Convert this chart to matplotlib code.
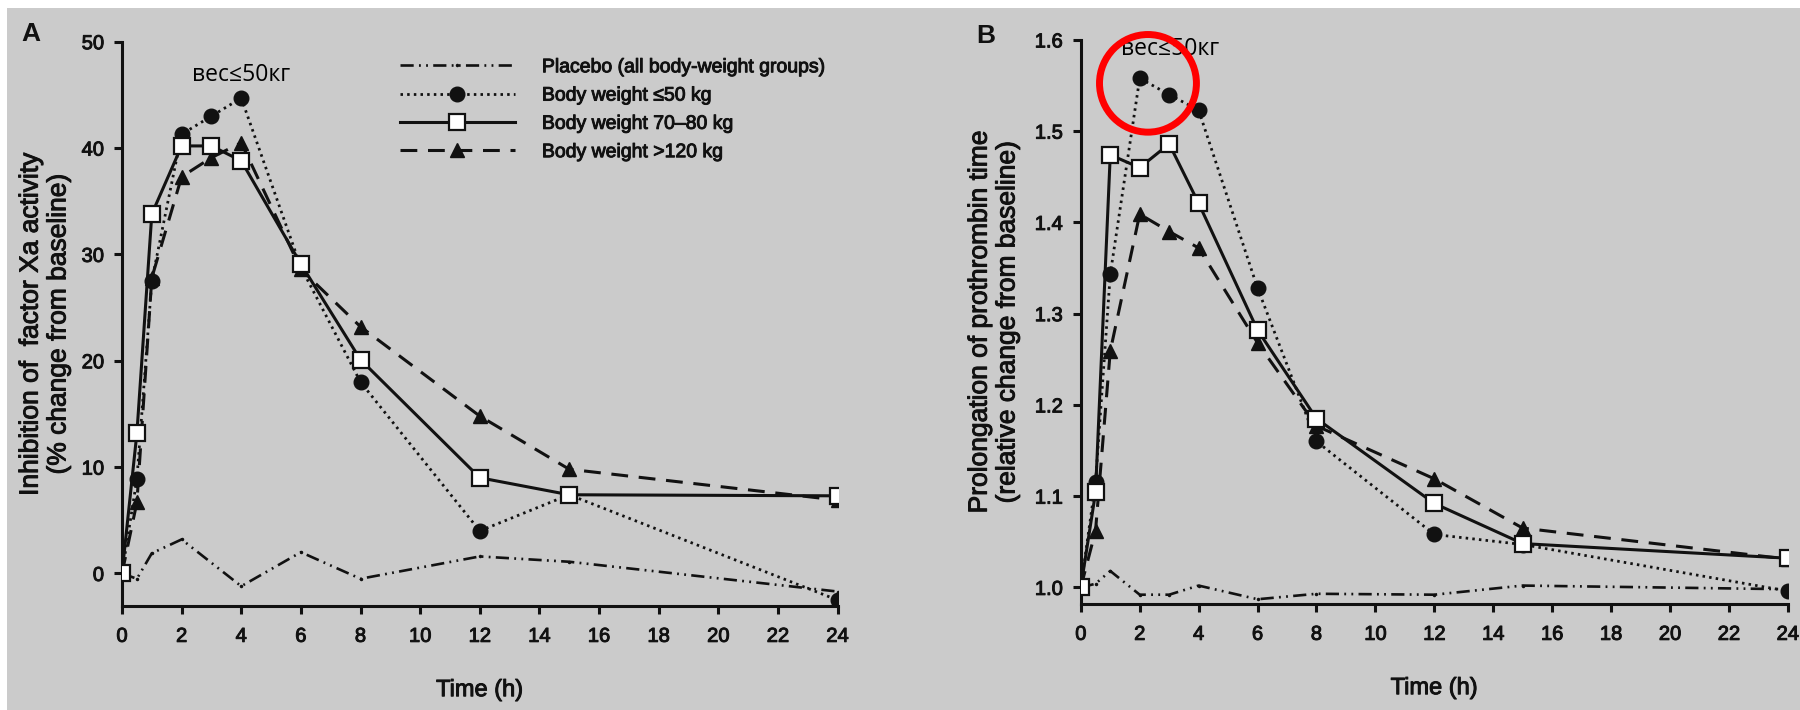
import matplotlib
matplotlib.use("Agg")
import matplotlib.pyplot as plt
from matplotlib.patches import Rectangle, Ellipse
import matplotlib.patheffects as pe

# ---------------- data ----------------
time_h = [0, 0.5, 1, 2, 3, 4, 6, 8, 12, 15, 24]
placebo_time = [0, 0.5, 1, 2, 4, 6, 8, 12, 15, 24]

# Panel A: inhibition of factor Xa activity (% change from baseline)
a_placebo = [0, -0.5, 1.9, 3.2, -1.2, 2.0, -0.5, 1.6, 1.1, -1.7]
a_le50 = [0, 8.9, 27.5, 41.3, 43.0, 44.7, 28.8, 18.0, 4.0, 7.4, -2.5]
a_70_80 = [0, 13.2, 33.8, 40.2, 40.2, 38.8, 29.1, 20.1, 9.0, 7.4, 7.3]
a_gt120 = [0, 6.7, 27.8, 37.3, 39.1, 40.5, 28.6, 23.2, 14.8, 9.8, 6.9]

# Panel B: prolongation of prothrombin time (relative change from baseline)
b_placebo = [1.0, 1.004, 1.018, 0.992, 0.992, 1.002, 0.987, 0.993, 0.992, 1.002, 0.998]
b_le50 = [1.0, 1.115, 1.343, 1.558, 1.540, 1.523, 1.328, 1.160, 1.058, 1.047, 0.996]
b_70_80 = [1.0, 1.104, 1.474, 1.460, 1.486, 1.421, 1.282, 1.185, 1.092, 1.048, 1.032]
b_gt120 = [1.0, 1.062, 1.259, 1.409, 1.390, 1.372, 1.268, 1.177, 1.119, 1.065, 1.031]

labels = ["Placebo (all body-weight groups)", "Body weight \u226450 kg",
          "Body weight 70\u201380 kg", "Body weight >120 kg"]
a_yticks = [0, 10, 20, 30, 40, 50]
b_yticks = [1.0, 1.1, 1.2, 1.3, 1.4, 1.5, 1.6]
x_ticks = list(range(0, 25, 2))
annot_text = "\u0432\u0435\u0441\u226450\u043a\u0433"

# ---------------- style ----------------
BG = "#cbcbcb"
INK = "#111111"
FONT = ["Liberation Sans", "DejaVu Sans"]
plt.rcParams["font.family"] = FONT
HEAVY = [pe.withStroke(linewidth=0.7, foreground=INK)]

fig = plt.figure(figsize=(18, 7.1), dpi=100)
fig.patch.set_facecolor("white")
fig.patches.append(Rectangle((7 / 1800, 0), 1, 1 - 8 / 710, transform=fig.transFigure,
                             facecolor=BG, edgecolor="none", zorder=-10))

axA = fig.add_axes([122 / 1800, 104 / 710, 715.5 / 1800, 564.3 / 710])
axB = fig.add_axes([1080.8 / 1800, 106 / 710, 707 / 1800, 564.1 / 710])

pl_style = dict(color=INK, lw=1.9, dashes=(5, 2, 0.7, 2, 0.7, 2),
                marker=".", ms=3, zorder=2)
le_style = dict(color=INK, lw=2.0, dashes=(0.9, 1.5), marker="o", ms=10.5,
                mfc=INK, mec=INK, zorder=3)
gt_style = dict(color=INK, lw=2.2, dashes=(5.5, 3.5), marker="^", ms=10.5,
                mfc=INK, mec=INK, zorder=4)
mid_style = dict(color=INK, lw=2.2, ls="-", marker="s", ms=11,
                 mfc="white", mec=INK, mew=1.6, zorder=5)


def style_axes(ax, ylim, yticks, yfmt, ylabel, lpad):
    ax.set_facecolor("none")
    for s in ("top", "right"):
        ax.spines[s].set_visible(False)
    for s in ("left", "bottom"):
        ax.spines[s].set_linewidth(2.2)
        ax.spines[s].set_color(INK)
    ax.set_xlim(0, 24)
    ax.set_ylim(*ylim)
    ax.set_xticks(x_ticks)
    ax.set_yticks(yticks)
    ax.set_yticklabels([yfmt(v) for v in yticks])
    ax.tick_params(axis="both", direction="out", length=6, width=2.2, colors=INK,
                   labelsize=14.5)
    ax.tick_params(axis="y", pad=7)
    ax.tick_params(axis="x", pad=9)
    ax.set_xlabel("Time (h)", fontsize=17, color=INK, labelpad=24)
    ax.set_ylabel(ylabel, fontsize=19, color=INK, labelpad=lpad)
    for t in ax.get_xticklabels() + ax.get_yticklabels() + [ax.xaxis.label, ax.yaxis.label]:
        t.set_path_effects(HEAVY)


# Panel A
hA = []
hA += axA.plot(placebo_time, a_placebo, **pl_style)
hA += axA.plot(time_h, a_le50, **le_style)
hA += axA.plot(time_h, a_gt120, **gt_style)
hA += axA.plot(time_h, a_70_80, **mid_style)
style_axes(axA, (-3.06, 50), a_yticks, lambda v: f"{v:d}",
           "Inhibition of  factor Xa activity\n(% change from baseline)", 8)
handles = [hA[0], hA[1], hA[3], hA[2]]
leg = axA.legend(handles, labels, loc="upper left", bbox_to_anchor=(0.3885, 0.97),
                 frameon=False, fontsize=14, handlelength=5.9, handletextpad=1.4,
                 labelspacing=0.55, borderpad=0, borderaxespad=0, numpoints=1)
for t in leg.get_texts():
    t.set_color(INK)
    t.set_path_effects(HEAVY)
axA.text(4, 46.9, annot_text, ha="center", va="center", fontsize=16.5,
         family=["Open Sans", "Noto Sans", "DejaVu Sans"], color="black")

# Panel B
axB.plot(time_h, b_placebo, **pl_style)
axB.plot(time_h, b_le50, **le_style)
axB.plot(time_h, b_gt120, **gt_style)
axB.plot(time_h, b_70_80, **mid_style)
style_axes(axB, (0.9818, 1.6), b_yticks, lambda v: f"{v:.1f}",
           "Prolongation of prothrombin time\n(relative change from baseline)", 11)
axB.text(3.03, 1.59, annot_text, ha="center", va="center", fontsize=16.5,
         family=["Open Sans", "Noto Sans", "DejaVu Sans"], color="black")
axB.add_patch(Ellipse((2.28, 1.5524), 3.29, 0.107, facecolor="none",
                      edgecolor="#ff0000", lw=5, clip_on=False, zorder=10))

# Panel letters
fig.text(31 / 1800, 1 - 34 / 710, "A", fontsize=19, fontweight="bold", color=INK,
         ha="center", va="center")
fig.text(986 / 1800, 1 - 36 / 710, "B", fontsize=19, fontweight="bold", color=INK,
         ha="center", va="center")

fig.savefig("out.png", dpi=100, facecolor=fig.get_facecolor())
